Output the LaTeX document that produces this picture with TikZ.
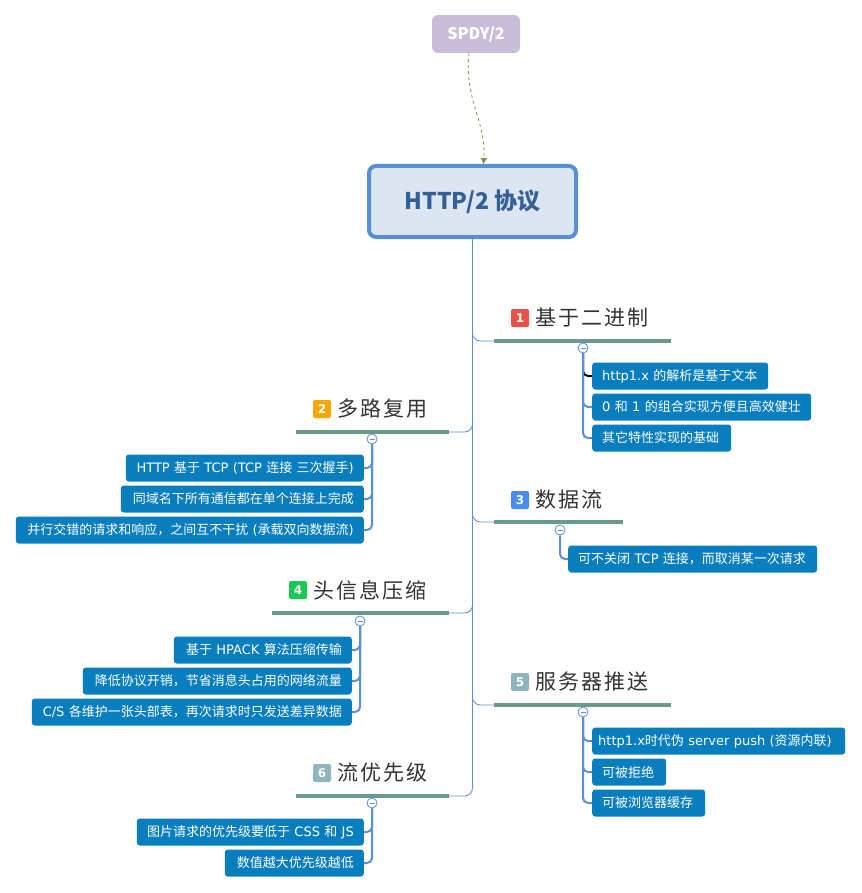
\documentclass[tikz,border=0pt]{standalone}
\usepackage{fontspec}
\setmainfont{DejaVu Sans}
\newfontfamily\cjkfont{Noto Sans CJK SC}
\newfontfamily\titlefont[LetterSpace=10]{Noto Sans CJK SC}
\usepackage{tikz}
\usetikzlibrary{positioning}
\usetikzlibrary{arrows.meta}
\usepackage{xcolor}

% Latin text in DejaVu Sans, Chinese in Noto Sans CJK
\XeTeXinterchartokenstate=1
\newXeTeXintercharclass\cjkclass
\count255="3000
\loop\XeTeXcharclass\count255=\cjkclass\ifnum\count255<"9FFF\advance\count255 1\repeat
\count255="FF00
\loop\XeTeXcharclass\count255=\cjkclass\ifnum\count255<"FFEF\advance\count255 1\repeat
\XeTeXinterchartoks 0 \cjkclass = {\begingroup\cjkfont}
\XeTeXinterchartoks 4095 \cjkclass = {\begingroup\cjkfont}
\XeTeXinterchartoks \cjkclass 0 = {\endgroup}
\XeTeXinterchartoks \cjkclass 4095 = {\endgroup}
\newcommand\nocjkswitch{\XeTeXinterchartokenstate=0\relax}

\definecolor{leafblue}{RGB}{8,126,190}
\definecolor{linkblue}{RGB}{91,143,214}
\definecolor{rootline}{RGB}{87,144,214}
\definecolor{rootfill}{RGB}{220,230,242}
\definecolor{roottext}{RGB}{52,95,150}
\definecolor{spdyfill}{RGB}{200,190,218}
\definecolor{arrowgreen}{RGB}{122,154,58}
\definecolor{ulinegray}{RGB}{106,154,142}
\definecolor{badgered}{RGB}{232,80,74}
\definecolor{badgeorange}{RGB}{245,168,0}
\definecolor{badgeblue}{RGB}{74,140,240}
\definecolor{badgegreen}{RGB}{27,199,85}
\definecolor{badgegray}{RGB}{141,181,190}

\tikzset{
  leaf/.style={fill=leafblue, text=white, rounded corners=3, inner xsep=10, inner ysep=0,
    minimum height=27, font=\fontsize{13}{15}\selectfont},
  rleaf/.style={leaf, anchor=west, align=left, text width=#1-20},
  lleaf/.style={leaf, anchor=east, align=right, text width=#1-20},
  badge/.style={rounded corners=2, minimum size=18, inner sep=0, text=white,
    font=\fontsize{12}{12}\selectfont\bfseries},
  branch/.style={anchor=west, inner sep=0, text=black!80,
    font=\nocjkswitch\fontsize{21}{24}\titlefont},
  fold/.style={circle, draw=linkblue, fill=white, minimum size=10, inner sep=0, line width=0.8},
  spine/.style={linkblue, line width=0.8, rounded corners=8},
  twig/.style={linkblue, line width=2, rounded corners=5},
  uline/.style={ulinegray, line width=3.5},
}

\begin{document}
\begin{tikzpicture}[x=1pt, y=-1pt]
\useasboundingbox (0,0) rectangle (861,893);

% root and its source
\node[fill=spdyfill, rounded corners=6, minimum width=88, minimum height=38, inner sep=0,
  text=white, font=\nocjkswitch\fontsize{16}{18}\cjkfont\bfseries] (spdy) at (476,34) {SPDY/2};
\node[draw=rootline, line width=4, fill=rootfill, rounded corners=7, minimum width=207,
  minimum height=71, text=roottext, font=\nocjkswitch\fontsize{23}{26}\cjkfont\bfseries] (http) at (472.5,201.5) {HTTP/2 协议};
\draw[arrowgreen, dashed, line width=0.8, -{Triangle[length=6, width=6]}]
  ([xshift=-7]spdy.south) .. controls (464,100) and (486,120) .. ([xshift=11]http.north);

% branch titles
\node[badge, fill=badgered] (n1) at (520,318) {1};
\node[branch, right=6 of n1] (t1) {基于二进制};
\node[badge, fill=badgeorange] (n2) at (322,409) {2};
\node[branch, right=6 of n2] (t2) {多路复用};
\node[badge, fill=badgeblue] (n3) at (520,500) {3};
\node[branch, right=6 of n3] (t3) {数据流};
\node[badge, fill=badgegreen] (n4) at (298,590) {4};
\node[branch, right=6 of n4] (t4) {头信息压缩};
\node[badge, fill=badgegray] (n5) at (520,682) {5};
\node[branch, right=6 of n5] (t5) {服务器推送};
\node[badge, fill=badgegray] (n6) at (322,773) {6};
\node[branch, right=6 of n6] (t6) {流优先级};

% underlines
\coordinate (u1a) at (494,341); \coordinate (u1b) at (671,341);
\coordinate (u2a) at (296,432); \coordinate (u2b) at (449,432);
\coordinate (u3a) at (494,522); \coordinate (u3b) at (623,522);
\coordinate (u4a) at (272,613); \coordinate (u4b) at (449,613);
\coordinate (u5a) at (494,705); \coordinate (u5b) at (671,705);
\coordinate (u6a) at (296,796); \coordinate (u6b) at (449,796);

\draw[spine] (http.south) |- (u6b);
\foreach \u in {u1a,u3a,u5a,u2b,u4b}
  \draw[spine] (http.south) |- (\u);
\foreach \i in {1,...,6}
  \draw[uline] (u\i a) -- (u\i b);

% leaves
\node[rleaf=176] (l11) at (592,376) {http1.x 的解析是基于文本};
\node[rleaf=219] (l12) at (592,407) {0 和 1 的组合实现方便且高效健壮};
\node[rleaf=139] (l13) at (592,438) {其它特性实现的基础};

\node[lleaf=238] (l21) at (364,468) {HTTP 基于 TCP (TCP 连接 三次握手)};
\node[lleaf=243] (l22) at (364,499) {同域名下所有通信都在单个连接上完成};
\node[lleaf=348] (l23) at (364,530) {并行交错的请求和响应，之间互不干扰 (承载双向数据流)};

\node[rleaf=249] (l31) at (568,559) {可不关闭 TCP 连接，而取消某一次请求};

\node[lleaf=178] (l41) at (352,650) {基于 HPACK 算法压缩传输};
\node[lleaf=269] (l42) at (352,681) {降低协议开销，节省消息头占用的网络流量};
\node[lleaf=320] (l43) at (352,712) {C/S 各维护一张头部表，再次请求时只发送差异数据};

\node[rleaf=253, inner xsep=6, text width=241] (l51) at (592,741) {http1.x时代伪 server push (资源内联)};
\node[rleaf=74]  (l52) at (592,772) {可被拒绝};
\node[rleaf=113] (l53) at (592,803) {可被浏览器缓存};

\node[lleaf=227] (l61) at (364,832) {图片请求的优先级要低于 CSS 和 JS};
\node[lleaf=139] (l62) at (364,863) {数值越大优先级越低};

% fold markers
\node[fold] (c1) at (583,348) {};
\node[fold] (c2) at (372,439) {};
\node[fold] (c3) at (560,530) {};
\node[fold] (c4) at (360,621) {};
\node[fold] (c5) at (583,712) {};
\node[fold] (c6) at (372,803) {};

% twigs
\draw[twig, black] (c1.south) |- (l11.west);
\draw[twig] (c1.south) |- (l12.west);
\draw[twig] (c1.south) |- (l13.west);
\foreach \l in {l21,l22,l23} \draw[twig] (c2.south) |- (\l.east);
\draw[twig] (c3.south) |- (l31.west);
\foreach \l in {l41,l42,l43} \draw[twig] (c4.south) |- (\l.east);
\foreach \l in {l51,l52,l53} \draw[twig] (c5.south) |- (\l.west);
\foreach \l in {l61,l62} \draw[twig] (c6.south) |- (\l.east);

\foreach \c in {c1,c2,c3,c4,c5,c6}
  \draw[linkblue, line width=0.8] ([xshift=-2.5]\c.center) -- ([xshift=2.5]\c.center);

\end{tikzpicture}
\end{document}
